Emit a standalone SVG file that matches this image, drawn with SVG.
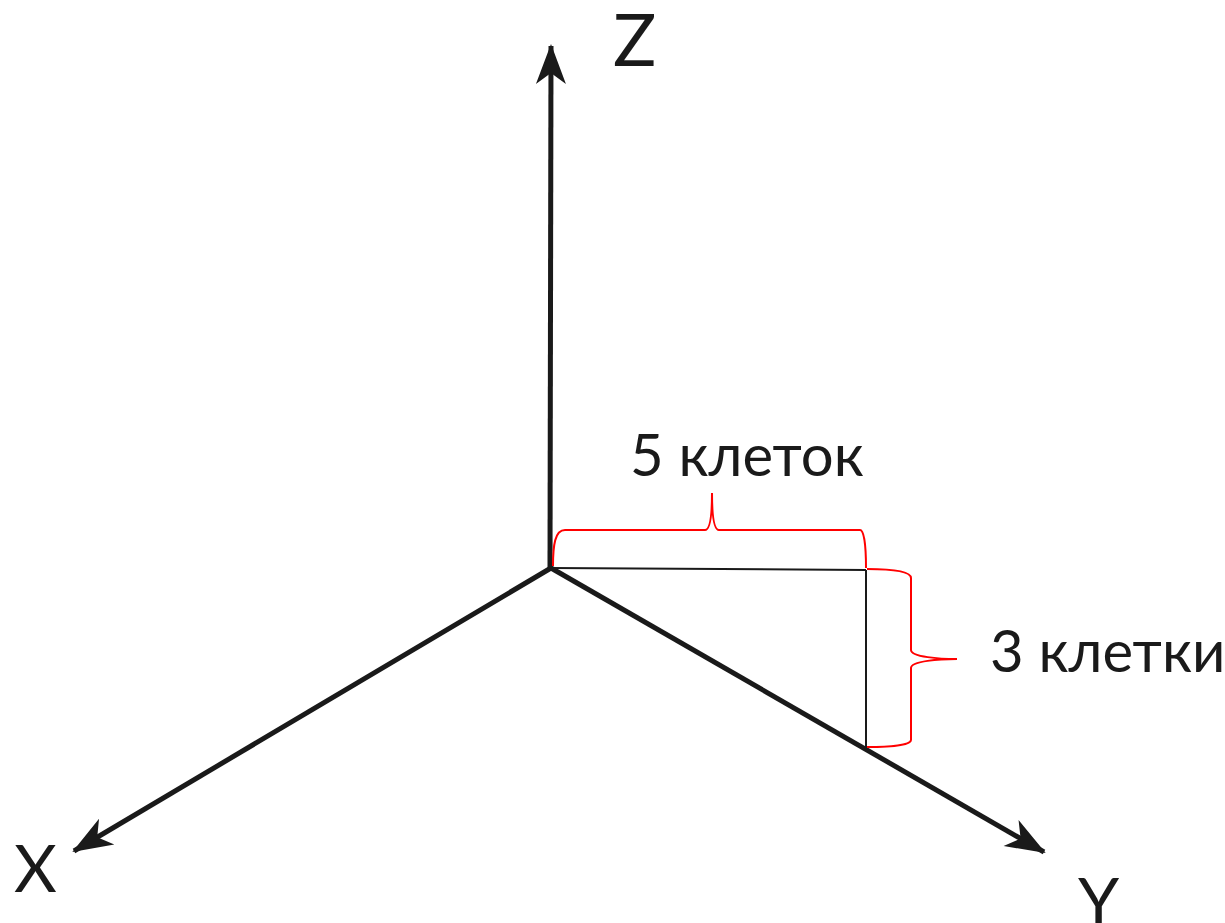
<svg xmlns="http://www.w3.org/2000/svg" width="1225" height="923" viewBox="0 0 1225 923">
<style>
.ax{stroke:#1a1a1a;stroke-width:5;fill:none}
.thin{stroke:#1a1a1a;stroke-width:2;fill:none}
.br{stroke:#ff0000;stroke-width:2;fill:none}
.t{font-family:"Lato","Open Sans","Liberation Sans",sans-serif;fill:#1a1a1a}
</style>
<defs>
<marker id="ah" markerUnits="userSpaceOnUse" viewBox="-42 -16 46 32" refX="0" refY="0" markerWidth="46" markerHeight="32" orient="auto">
<path d="M2,0 L-38,-15 L-27,0 L-38,15 Z" fill="#1a1a1a"/>
</marker>
</defs>
<g id="connectors">
<line class="ax" x1="550" y1="570" x2="551" y2="46" marker-end="url(#ah)"/>
<line class="ax" x1="551" y1="568" x2="74" y2="851" marker-end="url(#ah)"/>
<line class="ax" x1="551" y1="568" x2="1044" y2="852" marker-end="url(#ah)"/>
<line class="thin" x1="551" y1="568" x2="866" y2="570"/>
<line class="thin" x1="866" y1="570" x2="866" y2="748"/>
<path class="br" d="M553,566 C553,545 555,530 565,530 L705,530 C710,530 712,515 712,493 C712,515 714,530 719,530 L860,530 C864,530 866,545 866,568"/>
<path class="br" d="M867,569 C890,569 911,571 911,578 L911,650 C911,657 940,659 957,659 C940,659 911,661 911,668 L911,740 C911,745 890,747 867,747"/>
</g>
<g id="label-z"><text class="t" x="613" y="66" font-size="72">Z</text></g>
<g id="label-x"><text class="t" x="14" y="892" font-size="66">X</text></g>
<g id="label-y"><text class="t" x="1078" y="925" font-size="66">Y</text></g>
<g id="label-5"><text class="t" x="630" y="476" font-size="58">5 клеток</text></g>
<g id="label-3"><text class="t" x="990" y="672" font-size="58">3 клетки</text></g>
</svg>
